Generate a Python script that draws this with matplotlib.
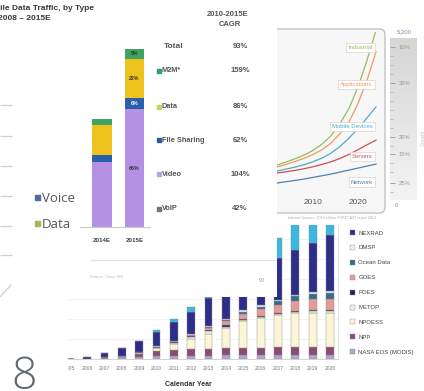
import matplotlib.pyplot as plt
from matplotlib.patches import FancyBboxPatch, Rectangle
from matplotlib.colors import LinearSegmentedColormap
import numpy as np

plt.rcParams['font.family'] = ['Liberation Sans', 'DejaVu Sans']

W, H = 424, 391

# Mobile data traffic by type (exabytes per month)
traffic_years = ['2014E', '2015E']
traffic_video = [2.28, 4.13]
traffic_file_sharing = [0.25, 0.38]
traffic_data = [1.06, 1.39]
traffic_m2m = [0.20, 0.32]
cagr_types = ['Total', 'M2M*', 'Data', 'File Sharing', 'Video', 'VoIP']
cagr_values = ['93%', '159%', '86%', '62%', '104%', '42%']
cagr_colors = [None, '#2e9d78', '#c8d25a', '#2b5aa5', '#b7a7d6', '#707a6a']

# Growth curves
growth_years = [2002, 2004, 2006, 2008, 2010, 2012, 2014, 2016, 2018, 2020, 2022, 2024]
network = [660, 700, 740, 780, 830, 880, 930, 990, 1050, 1110, 1170, 1230]
servers = [960, 1000, 1040, 1090, 1150, 1220, 1300, 1400, 1520, 1660, 1810, 1950]
mobile_devices = [1020, 1080, 1140, 1210, 1300, 1410, 1560, 1760, 2010, 2300, 2620, 2950]
applications = [1140, 1220, 1310, 1400, 1520, 1660, 1860, 2150, 2500, 3050, 3750, 4600]
industrial = [1200, 1290, 1390, 1500, 1640, 1830, 2080, 2450, 2900, 3550, 4350, 5250]

# Archived satellite / radar data volume per calendar year
sat_years = [2005, 2006, 2007, 2008, 2009, 2010, 2011, 2012,
             2013, 2014, 2015, 2016, 2017, 2018, 2019, 2020]
nasa_eos = [0, 0.5, 1, 2, 2.5, 3, 3.3, 3.5, 3.5, 4, 4, 4, 4.5, 4.5, 4.5, 4.5]
npp = [0, 0, 0.5, 1, 3, 5, 6, 7, 7, 7.5, 7.5, 7.5, 7.5, 7.5, 7.5, 7.5]
npoess = [0, 0, 0, 0, 1, 3, 6, 10, 15, 20, 27, 30, 32, 34, 34.5, 34.5]
metop = [0, 0, 0, 0, 0, 0.5, 1, 2, 2.5, 1, 1, 1, 1.5, 1.5, 1.5, 1.5]
poes = [0, 0, 0.7, 0.5, 0.5, 0.7, 1, 1, 1.5, 1.3, 1, 1, 1, 1, 1, 1]
goes = [0, 0, 0, 0, 0, 0, 0.5, 1, 2, 4, 5, 6.5, 8, 10, 11, 11.3]
ocean_data = [0, 0, 0, 0, 0, 0, 0, 0, 0.5, 1, 2, 2.5, 3.3, 4.3, 5.3, 6]
dmsp = [0, 0, 0, 0, 0, 0.5, 0.5, 1, 1, 1, 1.2, 1.2, 1.5, 1.5, 1.5, 1.5]
nexrad = [0.3, 1.5, 3.5, 7.5, 11, 14.5, 18.5, 22, 28, 33, 36, 38, 42, 45, 49, 56]
models = [0, 0, 0, 0, 0.5, 1.5, 3, 5, 8, 11, 14, 17, 20, 30, 32, 36]

fig = plt.figure(figsize=(W / 100, H / 100), dpi=100)
fig.patch.set_facecolor('white')


def frac(x0, y0, x1, y1):
    return [x0 / W, 1 - y1 / H, (x1 - x0) / W, (y1 - y0) / H]


def canvas(x0, y0, x1, y1, z, color='white'):
    ax = fig.add_axes(frac(x0, y0, x1, y1), zorder=z)
    ax.set_xlim(x0, x1)
    ax.set_ylim(y1, y0)
    ax.set_xticks([])
    ax.set_yticks([])
    for s in ax.spines.values():
        s.set_visible(False)
    ax.set_facecolor(color)
    return ax


# ---------- stacked data volume bars ----------
ax4 = fig.add_axes(frac(60, 200, 338, 359), zorder=1)
sat_series = [
    ('NASA EOS (MODIS)', nasa_eos, '#aaa7d0'),
    ('NPP', npp, '#8c4a76'),
    ('NPOESS', npoess, '#faf6d6'),
    ('METOP', metop, '#eeeee4'),
    ('POES', poes, '#24246e'),
    ('GOES', goes, '#e49a98'),
    ('Ocean Data', ocean_data, '#2f6e88'),
    ('DMSP', dmsp, '#e6f3fb'),
    ('NEXRAD', nexrad, '#2d2d8a'),
    ('_Models', models, '#39b8e0'),
]
bottom = np.zeros(len(sat_years))
for name, vals, col in sat_series:
    ax4.bar(sat_years, vals, 0.45, bottom=bottom, color=col,
            edgecolor='#938c8a', linewidth=0.3, label=name)
    bottom += np.array(vals)
ax4.set_xlim(2004.44, 2020.46)
ax4.set_ylim(0, 159)
ax4.set_xticks(sat_years)
ax4.set_xticklabels([str(y) for y in sat_years], fontsize=3.6, color='#777')
ax4.tick_params(axis='x', length=0, pad=5)
ax4.set_yticks(range(20, 160, 20))
ax4.set_yticklabels([])
ax4.tick_params(axis='y', length=0)
ax4.grid(axis='y', color='#eeeeee', lw=0.5)
ax4.set_axisbelow(True)
for s in ['top', 'left']:
    ax4.spines[s].set_visible(False)
ax4.spines['bottom'].set_color('#cccccc')
ax4.spines['right'].set_color('#dddddd')
ax4.spines['bottom'].set_linewidth(0.6)
ax4.spines['right'].set_linewidth(0.6)

handles, labels = ax4.get_legend_handles_labels()
leg = ax4.legend(handles[::-1], labels[::-1], loc='upper left',
                 bbox_to_anchor=(350 / W, 1 - 230 / H), bbox_transform=fig.transFigure,
                 frameon=False, fontsize=4.3, handlelength=0.9, handleheight=0.9,
                 handletextpad=0.5, labelspacing=1.57, borderpad=0, borderaxespad=0)
for t in leg.get_texts():
    t.set_color('#444444')
fig.text(188 / W, 1 - 385 / H, 'Calendar Year', ha='center', va='center',
         fontsize=5, weight='bold', color='#333333')

# ---------- growth curves panel ----------
bg3 = canvas(270, 0, 424, 225, z=2)
bg3.add_patch(FancyBboxPatch((262, 29), 123, 184, boxstyle='round,pad=0,rounding_size=6',
                             fc='#f7f7f7', ec='#bdbdbd', lw=0.9))
band = LinearSegmentedColormap.from_list('band', ['#d6d6d6', '#f3f3f3'])
bg3.imshow(np.linspace(0, 1, 60).reshape(-1, 1), extent=[390, 417, 200, 38],
           cmap=band, aspect='auto', zorder=1)
bg3.set_xlim(270, 424)
bg3.set_ylim(225, 0)
bg3.text(397, 32, '5,200', fontsize=4.3, color='#6f8fb0', ha='left', va='center')
bg3.text(420.5, 138, 'Growth', rotation=90, fontsize=3.6, color='#c4c4c4',
         ha='left', va='center')
bg3.text(332, 218, 'Internet Sources: 2013 edition FORECAST report 2013',
         fontsize=2.6, color='#aaaaaa', ha='center', va='center')

axb = fig.add_axes(frac(390, 38, 417, 200), zorder=3)
axb.set_facecolor('none')
axb.set_ylim(200, 38)
axb.set_xticks([])
for s in axb.spines.values():
    s.set_visible(False)
axb.set_yticks([47, 83, 137, 154, 183], ['10%', '35%', '20%', '15%', '25%'])
axb.set_yticks([56, 65, 74, 92, 101, 110, 119, 128, 146, 163, 172, 192], minor=True)
axb.tick_params(axis='y', which='major', direction='in', length=3.5, width=0.6,
                color='#999999', labelsize=4.2, labelcolor='#999999', pad=-6.5)
axb.tick_params(axis='y', which='minor', direction='in', length=2, width=0.5, color='#aaaaaa')
for lbl in axb.get_yticklabels():
    lbl.set_ha('left')

axc = fig.add_axes(frac(277, 32, 385, 213), zorder=3)
axc.set_facecolor('none')
curves = [
    ('Network', network, '#4f7fb0', 691),
    ('Servers', servers, '#c9504f', 1458),
    ('Mobile Devices', mobile_devices, '#4aaec6', 2367),
    ('Applications', applications, '#f29a5a', 3622),
    ('Industrial', industrial, '#93bd5c', 4734),
]
for name, vals, col, label_y in curves:
    axc.plot(growth_years, vals, color=col, lw=0.9)
    axc.text(2023.3, label_y, name, ha='right', va='center', fontsize=4.3, color=col,
             bbox=dict(boxstyle='square,pad=0.35', fc='white', ec='#e2cfcf', lw=0.5))
axc.set_xlim(2002, 2026)
axc.set_ylim(-240, 5200)
axc.set_xticks([2010, 2020])
axc.tick_params(axis='x', length=0, pad=-10, labelsize=6, labelcolor='#555555')
axc.yaxis.tick_right()
axc.set_yticks([0])
axc.tick_params(axis='y', length=0, pad=7, labelsize=4.3, labelcolor='#888888')
for s in axc.spines.values():
    s.set_visible(False)

# ---------- mobile traffic panel ----------
c1 = canvas(0, 0, 277, 297, z=4)
c1.hlines([105, 136, 166, 196, 226, 255], 0, 12, color='#cfcfcf', lw=0.9)
c1.plot([0, 11], [297, 285], color='#cfcfcf', lw=0.9)
c1.add_patch(Rectangle((35, 195), 5, 5, color='#4e6e9c'))
c1.text(42, 198, 'Voice', fontsize=9.5, color='#555555', va='center', family='Open Sans')
c1.add_patch(Rectangle((35, 221), 5, 5, color='#9bbb59'))
c1.text(42, 224, 'Data', fontsize=9.5, color='#555555', va='center', family='Open Sans')

c1.text(-17, 8, 'Mobile Data Traffic, by Type', fontsize=6, weight='bold',
        color='#3a3a3a', va='center')
c1.text(-2, 18, '2008 – 2015E', fontsize=6, weight='bold', color='#3a3a3a', va='center')
c1.text(228, 15, '2010-2015E', fontsize=5.5, weight='bold', color='#555555',
        ha='center', va='center')
c1.text(230, 24, 'CAGR', fontsize=5.5, weight='bold', color='#555555',
        ha='center', va='center')
row_y = [47, 71, 107, 140, 174, 209]
for name, val, col, y in zip(cagr_types, cagr_values, cagr_colors, row_y):
    if col is None:
        c1.text(174, y, name, fontsize=6, weight='bold', color='#555555',
                ha='center', va='center')
    else:
        c1.add_patch(Rectangle((157, y - 1.8), 3.6, 3.6, color=col))
        c1.text(162, y, name, fontsize=5.3, weight='bold', color='#555555', va='center')
    c1.text(240, y, val, fontsize=5.5, weight='bold', color='#555555',
            ha='center', va='center')
c1.hlines(260, 90, 277, color='#e3e3e3', lw=0.8)
c1.text(90, 277, 'Source: Cisco VNI', fontsize=3, color='#bbbbbb', va='center')
c1.text(262, 281, '90', fontsize=4, color='#999999', ha='center', va='center')

ax1 = fig.add_axes(frac(80, 40, 150, 227), zorder=5)
ax1.set_facecolor('none')
x1 = np.arange(len(traffic_years))
stack = [
    (traffic_video, '#b591e6', '#333333'),
    (traffic_file_sharing, '#2a5fab', 'white'),
    (traffic_data, '#eec21c', '#333333'),
    (traffic_m2m, '#3fa45f', '#333333'),
]
totals = np.sum([s[0] for s in stack], axis=0)
base = np.zeros(len(traffic_years))
for vals, col, tcol in stack:
    vals = np.array(vals)
    ax1.bar(x1, vals, 0.585, bottom=base, color=col)
    share = 100 * vals[1] / totals[1]
    ax1.text(x1[1], base[1] + vals[1] / 2, f'{share:.0f}%', ha='center', va='center',
             fontsize=3.8, weight='bold', color=tcol)
    base += vals
ax1.set_xlim(-0.677, 1.477)
ax1.set_ylim(0, 6.55)
ax1.set_xticks(x1, traffic_years)
ax1.tick_params(axis='x', length=0, pad=8, labelsize=4.5, labelcolor='#444444')
for lbl in ax1.get_xticklabels():
    lbl.set_weight('bold')
ax1.set_yticks([])
for s in ['top', 'left', 'right']:
    ax1.spines[s].set_visible(False)
ax1.spines['bottom'].set_color('#c8c8c8')
ax1.spines['bottom'].set_linewidth(0.8)

# ---------- lower-left page corner ----------
lb = canvas(0, 297, 68, 391, z=6)
lb.text(24, 389, '8', fontsize=32, color='#5d6872', ha='center', va='baseline',
        family='Open Sans', weight='light')

fig.savefig('out.png', dpi=100)
